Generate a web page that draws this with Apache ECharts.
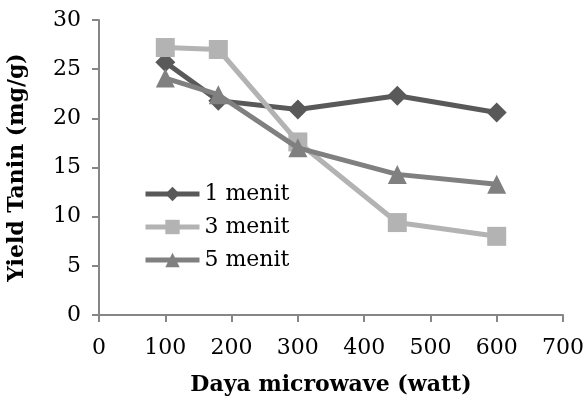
<!DOCTYPE html>
<html>
<head>
<meta charset="utf-8">
<script src="https://cdn.jsdelivr.net/npm/echarts@6/dist/echarts.min.js"></script>
<style>
  html, body { margin: 0; padding: 0; background: #fff; }
  #chart { width: 587px; height: 401px; }
</style>
</head>
<body>
<div id="chart"></div>
<script>
// daya microwave (watt)
var power = [100, 180, 300, 450, 600];
// yield tanin (mg/g) per waktu
var menit1 = [25.7, 21.8, 20.9, 22.3, 20.6];
var menit3 = [27.2, 27.0, 17.6, 9.4, 8.0];
var menit5 = [24.1, 22.4, 17.0, 14.3, 13.3];
var seriesNames = ['1 menit', '3 menit', '5 menit'];

var font = 'DejaVu Serif';

function pairs(ys) {
	var out = [];
	for (var i = 0; i < power.length; i++) {
		out.push([power[i], ys[i]]);
	}
	return out;
}

var chart = echarts.init(document.getElementById('chart'));
var option = {
	animation: false,
	backgroundColor: '#fff',
	grid: { left: 99, right: 24, top: 20, bottom: 86, containLabel: false, outerBoundsMode: 'none' },
	legend: {
		orient: 'vertical',
		left: 138,
		top: 178,
		itemWidth: 54,
		itemHeight: 18,
		itemGap: 11,
		itemTextGap: 3,
		lineStyle: { width: 5 },
		textStyle: { fontFamily: font, fontSize: 22, color: '#000' },
		data: seriesNames
	},
	xAxis: {
		type: 'value',
		min: 0,
		max: 700,
		interval: 100,
		name: 'Daya microwave (watt)',
		nameLocation: 'middle',
		nameGap: 59,
		nameTextStyle: { fontFamily: font, fontSize: 22, fontWeight: 'bold', color: '#000' },
		axisLine: { show: true, lineStyle: { color: '#868686', width: 2 } },
		axisTick: { show: true, length: 7, lineStyle: { color: '#868686', width: 2 } },
		axisLabel: { fontFamily: font, fontSize: 22, color: '#000', margin: 22 },
		splitLine: { show: false }
	},
	yAxis: {
		type: 'value',
		min: 0,
		max: 30,
		interval: 5,
		name: 'Yield Tanin (mg/g)',
		nameLocation: 'middle',
		nameGap: 71,
		nameTextStyle: { fontFamily: font, fontSize: 22, fontWeight: 'bold', color: '#000' },
		axisLine: { show: true, lineStyle: { color: '#868686', width: 2 } },
		axisTick: { show: true, length: 7, lineStyle: { color: '#868686', width: 2 } },
		axisLabel: { fontFamily: font, fontSize: 22, color: '#000', margin: 18 },
		splitLine: { show: false }
	},
	series: [
		{
			name: seriesNames[0],
			type: 'line',
			data: pairs(menit1),
			symbol: 'diamond',
			symbolSize: 20,
			itemStyle: { color: '#595959' },
			lineStyle: { color: '#595959', width: 5 },
			z: 3
		},
		{
			name: seriesNames[1],
			type: 'line',
			data: pairs(menit3),
			symbol: 'rect',
			symbolSize: 19,
			itemStyle: { color: '#b3b3b3' },
			lineStyle: { color: '#b3b3b3', width: 5 },
			z: 4
		},
		{
			name: seriesNames[2],
			type: 'line',
			data: pairs(menit5),
			symbol: 'triangle',
			symbolSize: 19,
			itemStyle: { color: '#808080' },
			lineStyle: { color: '#808080', width: 5 },
			z: 5
		}
	]
};
chart.setOption(option, true);
</script>
</body>
</html>
